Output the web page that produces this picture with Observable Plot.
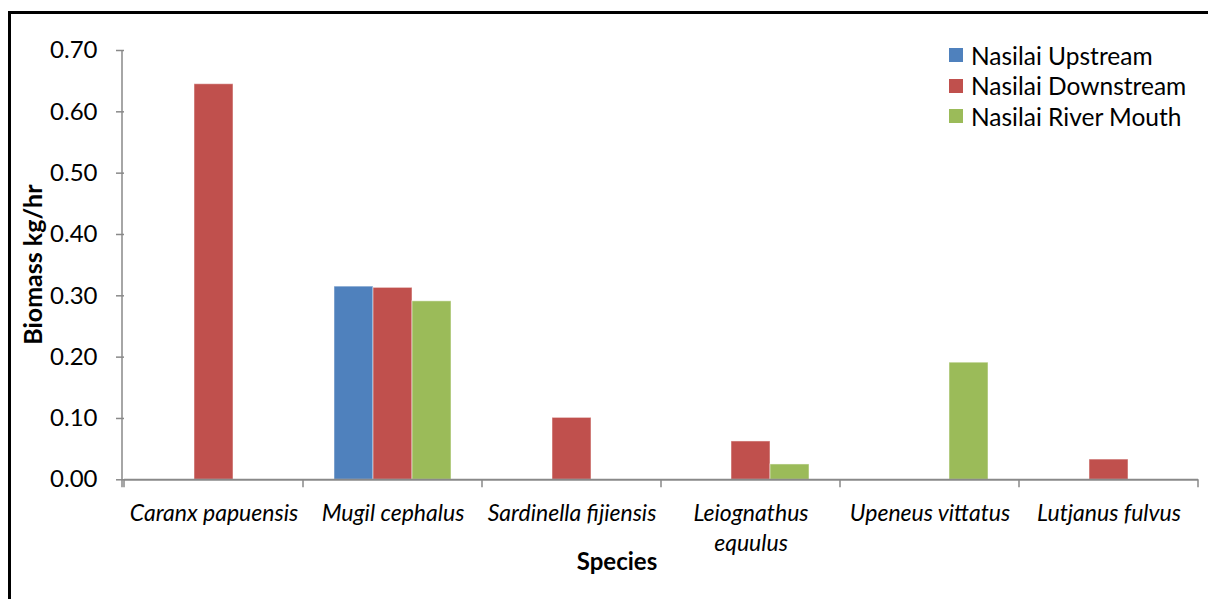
<!DOCTYPE html>
<html>
<head>
<meta charset="utf-8">
<script src="https://cdn.jsdelivr.net/npm/d3@7"></script>
<script src="https://cdn.jsdelivr.net/npm/@observablehq/plot@0.6"></script>
<style>
  html, body { margin: 0; padding: 0; background: #fff; overflow: hidden; }
  #wrap { position: relative; width: 1208px; height: 599px; font-family: Lato, "Open Sans", sans-serif; }
  #frame { position: absolute; left: 8px; top: 11px; width: 1400px; height: 800px; border-left: 3px solid #000; border-top: 3px solid #000; box-sizing: border-box; pointer-events: none; }
  #legend { position: absolute; left: 949px; top: 40px; font-size: 24.5px; color: #000; }
  #legend .row { display: flex; align-items: center; height: 30.5px; }
  #legend .sw { width: 14px; height: 14px; margin-right: 8px; }
  svg { position: absolute; left: 0; top: 0; }
</style>
</head>
<body>
<div id="wrap"><div id="frame"></div></div>
<script>
const species = ["Caranx papuensis", "Mugil cephalus", "Sardinella fijiensis", "Leiognathus\nequulus", "Upeneus vittatus", "Lutjanus fulvus"];
const series = ["Nasilai Upstream", "Nasilai Downstream", "Nasilai River Mouth"];
const upstream = [0, 0.315, 0, 0, 0, 0];
const downstream = [0.645, 0.313, 0.101, 0.0625, 0, 0.033];
const riverMouth = [0, 0.291, 0, 0.025, 0.191, 0];
const colors = ["#4F81BD", "#C0504D", "#9BBB59"];
const yTicks = [0, 0.1, 0.2, 0.3, 0.4, 0.5, 0.6, 0.7];
const yLabel = "Biomass kg/hr";
const xLabel = "Species";

const valuesBySeries = [upstream, downstream, riverMouth];
const rows = [];
species.forEach((sp, i) => {
  series.forEach((s, j) => {
    const v = valuesBySeries[j][i];
    if (v > 0) rows.push({species: sp, series: s, value: v});
  });
});

const W = 1208, H = 599;
const mL = 122, mR = 8, mT = 50, mB = H - 479.3;
const axisColor = "#898989";
const font = "Lato, 'Open Sans', sans-serif";

const plot = Plot.plot({
  width: W,
  height: H,
  marginLeft: mL,
  marginRight: mR,
  marginTop: mT,
  marginBottom: mB,
  style: {fontFamily: font, background: "transparent", overflow: "visible"},
  fx: {domain: species, padding: 0, axis: null},
  x: {domain: series, paddingInner: 0, paddingOuter: 0.746, axis: null},
  y: {domain: [0, 0.7], ticks: yTicks, label: null},
  color: {domain: series, range: colors},
  marks: [
    Plot.axisY({ticks: yTicks, tickFormat: d3.format(".2f"), tickSize: 8, tickPadding: 19, fontSize: 24, stroke: axisColor, strokeWidth: 1.5, color: "#000", label: null, facetAnchor: "left"}),
    Plot.barY(rows, {fx: "species", x: "series", y: "value", fill: "series", stroke: "#fff", strokeOpacity: 0.5, strokeWidth: 1}),
    Plot.ruleY([0], {stroke: axisColor, strokeWidth: 2}),
    Plot.text(species, {fx: d => d, text: d => d, frameAnchor: "bottom", lineAnchor: "top", dy: 20, fontSize: 23, fontStyle: "italic", fill: "#000", lineHeight: 1.3})
  ]
});

const wrap = document.getElementById("wrap");
wrap.insertBefore(plot, document.getElementById("frame"));

// axis line and category-boundary ticks from the library's scales
const svg = d3.select(plot);
const fx = plot.scale("fx");
const y = plot.scale("y");
const y0 = y.apply(0), yTop = y.apply(0.7);
const g = svg.append("g").attr("stroke", axisColor).attr("stroke-width", 1.5);
g.append("line").attr("x1", mL).attr("x2", mL).attr("y1", yTop).attr("y2", y0 + 8);
const bounds = species.map(s => fx.apply(s));
bounds.push(fx.apply(species[species.length - 1]) + fx.bandwidth);
bounds.forEach(bx => g.append("line").attr("x1", bx).attr("x2", bx).attr("y1", y0).attr("y2", y0 + 8));

// axis titles
svg.append("text")
  .attr("transform", `translate(42, ${(y0 + yTop) / 2}) rotate(-90)`)
  .attr("text-anchor", "middle")
  .attr("font-family", font)
  .attr("font-weight", "bold").attr("font-size", 25).attr("fill", "#000")
  .text(yLabel);
svg.append("text")
  .attr("x", 617).attr("y", 570)
  .attr("text-anchor", "middle")
  .attr("font-family", font)
  .attr("font-weight", "bold").attr("font-size", 24).attr("fill", "#000")
  .text(xLabel);

// legend
const legend = d3.select(wrap).append("div").attr("id", "legend");
series.forEach((s, i) => {
  const r = legend.append("div").attr("class", "row");
  r.append("div").attr("class", "sw").style("background", colors[i]);
  r.append("span").text(s);
});
</script>
</body>
</html>
